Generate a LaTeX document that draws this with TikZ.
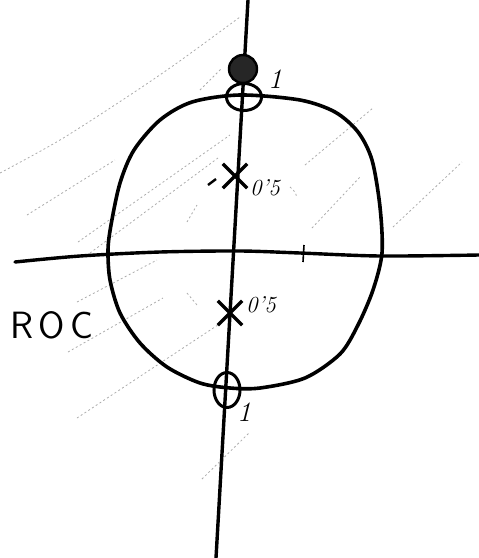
\documentclass[tikz,border=0pt]{standalone}
\usepackage{tikz}
\usetikzlibrary{shapes.geometric,shapes.misc}

\begin{document}
\begin{tikzpicture}[x=1pt,y=-1pt,
  axis/.style={line width=3.4pt,line cap=round},
  roc/.style={line width=3.6pt},
  hatch/.style={gray!65,line width=0.8pt,dash pattern=on 2pt off 2.5pt},
  pole/.style={cross out,draw,line width=3.4pt,minimum size=21pt,inner sep=0pt},
  zero/.style={ellipse,draw,line width=3pt,inner sep=0pt},
  lbl/.style={font=\fontsize{23}{25}\selectfont\itshape,inner sep=0pt}]
  \useasboundingbox (0,0) rectangle (479,558);
  % shading of the region of convergence
  \draw[hatch] plot[smooth] coordinates {(0,173) (60,140) (127,97) (177,63) (240,17)};
  \draw[hatch] (27,215) -- (115,160);
  \draw[hatch] (200,90) -- (222,68);
  \draw[hatch] (78,242) -- (230,135);
  \draw[hatch] (90,253) -- (218,158);
  \draw[hatch] (187,222) -- (197,205);
  \draw[hatch] (77,302) -- (157,260);
  \draw[hatch] (68,352) -- (163,298);
  \draw[hatch] (187,293) -- (197,305);
  \draw[hatch] (77,418) -- (230,317);
  \draw[hatch] (202,479) -- (250,432);
  \draw[hatch] (305,165) -- (373,108);
  \draw[hatch] (312,228) -- (360,177);
  \draw[hatch] (393,227) -- (462,162);
  \draw[hatch] (290,187) to[bend left=20] (297,198);
  \draw[line width=2.4pt] (208,185) -- (216,179);
  % axes
  \coordinate (top) at (248,0);
  \coordinate (bot) at (216,558);
  \draw[axis] (top) -- (bot);
  \draw[axis] plot[smooth] coordinates {(15,262) (80,256) (160,252) (240,251) (300,253) (380,256) (479,255)};
  \draw[line width=1.6pt] (304,245) -- (303,262);
  % unit circle
  \draw[roc] plot[smooth cycle] coordinates {(240,95) (300,100) (335,112) (358,132)
    (372,160) (380,207) (382,253) (373,290) (358,325) (340,354) (305,378)
    (260,388) (230,388) (200,383) (167,367) (140,343) (120,313) (110,280) (108,250)
    (111,225) (120,183) (134,150) (160,120) (192,102)};
  % poles and zeros
  \node[circle,draw,fill=black!85,line width=2.4pt,minimum size=28pt,inner sep=0pt] (zz) at (243,69) {};
  \node[zero,minimum width=35pt,minimum height=27pt] (z1) at (244,97) {};
  \node[zero,minimum width=26pt,minimum height=35pt] (z2) at (227,390) {};
  \node[pole] (p1) at (235,176) {};
  \node[pole] (p2) at (230,313) {};
  \node[lbl,font=\fontsize{28}{30}\selectfont\itshape] (lz1) at (275,79) {1};
  \node[lbl,font=\fontsize{28}{30}\selectfont\itshape] (lz2) at (244,412) {1};
  \node[lbl] (lp1) at (265,188) {0'5};
  \node[lbl] (lp2) at (261,305) {0'5};
  \node[font=\fontsize{38}{40}\selectfont\sffamily,inner sep=0pt] (roc) at (52,325) {R\hspace{5pt}O\hspace{5pt}C};
\end{tikzpicture}
\end{document}
